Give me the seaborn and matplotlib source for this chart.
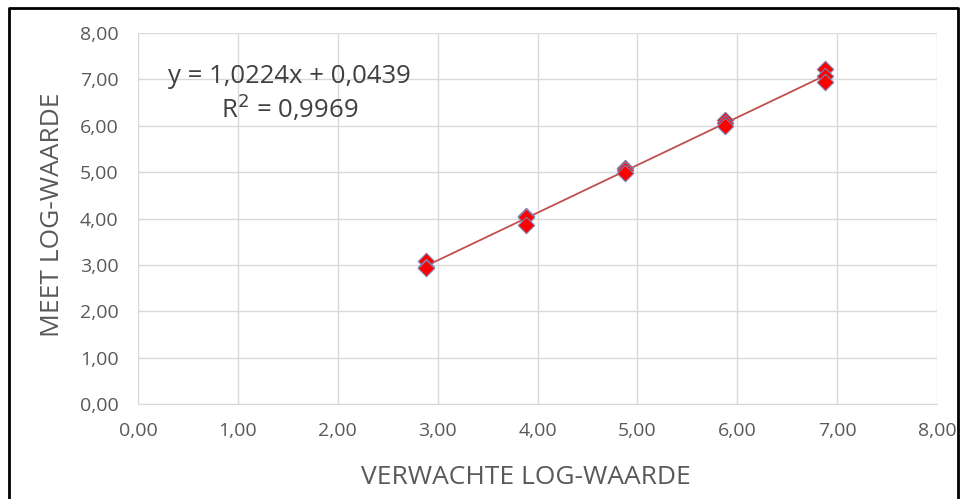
import numpy as np
import pandas as pd
import matplotlib
matplotlib.use("Agg")
import matplotlib.pyplot as plt
import seaborn as sns

# Verwachte en gemeten log-waarden
verwacht = [2.88, 2.88, 2.88, 3.88, 3.88, 3.88, 4.88, 4.88, 4.88,
            5.88, 5.88, 5.88, 6.88, 6.88, 6.88]
gemeten = [3.08, 2.95, 2.93, 4.06, 4.03, 3.86, 5.08, 5.05, 4.98,
           6.12, 6.05, 5.99, 7.23, 7.08, 6.95]

x_ticks = [0, 1, 2, 3, 4, 5, 6, 7, 8]
y_ticks = [0, 1, 2, 3, 4, 5, 6, 7, 8]
vergelijking = "y = 1,0224x + 0,0439"
r2_tekst = "R$^2$ = 0,9969"

df = pd.DataFrame({"verwacht": verwacht, "gemeten": gemeten})

sns.set_style("white")
plt.rcParams['font.family'] = ['Open Sans', 'DejaVu Sans']

fig = plt.figure(figsize=(9.62, 4.99), dpi=100)
ax = fig.add_axes([0.1435, 0.19, 0.8305, 0.744])

# Trendlijn
sns.regplot(data=df, x="verwacht", y="gemeten", ax=ax, ci=None, scatter=False,
            truncate=True, line_kws={"color": "#c0504d", "lw": 1.3, "zorder": 2})
# Meetpunten
sns.scatterplot(data=df, x="verwacht", y="gemeten", ax=ax, marker="D", s=70,
                color="#ff0000", edgecolor="#8080b0", linewidth=0.8, zorder=3)

ax.set_xlim(0, 8)
ax.set_ylim(0, 8)
ax.set_xticks(x_ticks)
ax.set_yticks(y_ticks)
fmt = lambda v: f"{v:.2f}".replace(".", ",")
ax.set_xticklabels([fmt(v) for v in x_ticks])
ax.set_yticklabels([fmt(v) for v in y_ticks])
ax.tick_params(axis="both", length=0, labelsize=14, colors="#595959")
ax.tick_params(axis="x", pad=13)
ax.tick_params(axis="y", pad=14)

ax.grid(True, color="#d9d9d9", lw=1)
ax.set_axisbelow(True)
for side in ["top", "right", "left"]:
    ax.spines[side].set_visible(False)
ax.spines["bottom"].set_color("#d9d9d9")

ax.set_xlabel("VERWACHTE LOG-WAARDE", fontsize=19, color="#595959")
ax.set_ylabel("MEET LOG-WAARDE", fontsize=19, color="#595959")
ax.xaxis.set_label_coords(0.486, -0.163)
ax.yaxis.set_label_coords(-0.092, 0.51)

ax.text(1.52, 7.07, vergelijking, fontsize=18.5, color="#404040", ha="center", va="center")
ax.text(1.52, 6.37, r2_tekst, fontsize=18.5, color="#404040", ha="center", va="center")

# Zwarte kader rond de grafiek
fig.add_artist(plt.Line2D([0.0094, 0.0094, 0.996, 0.996], [0.0, 0.984, 0.984, 0.0],
                          transform=fig.transFigure, color="black", lw=2))

fig.savefig("out.png", dpi=100)
